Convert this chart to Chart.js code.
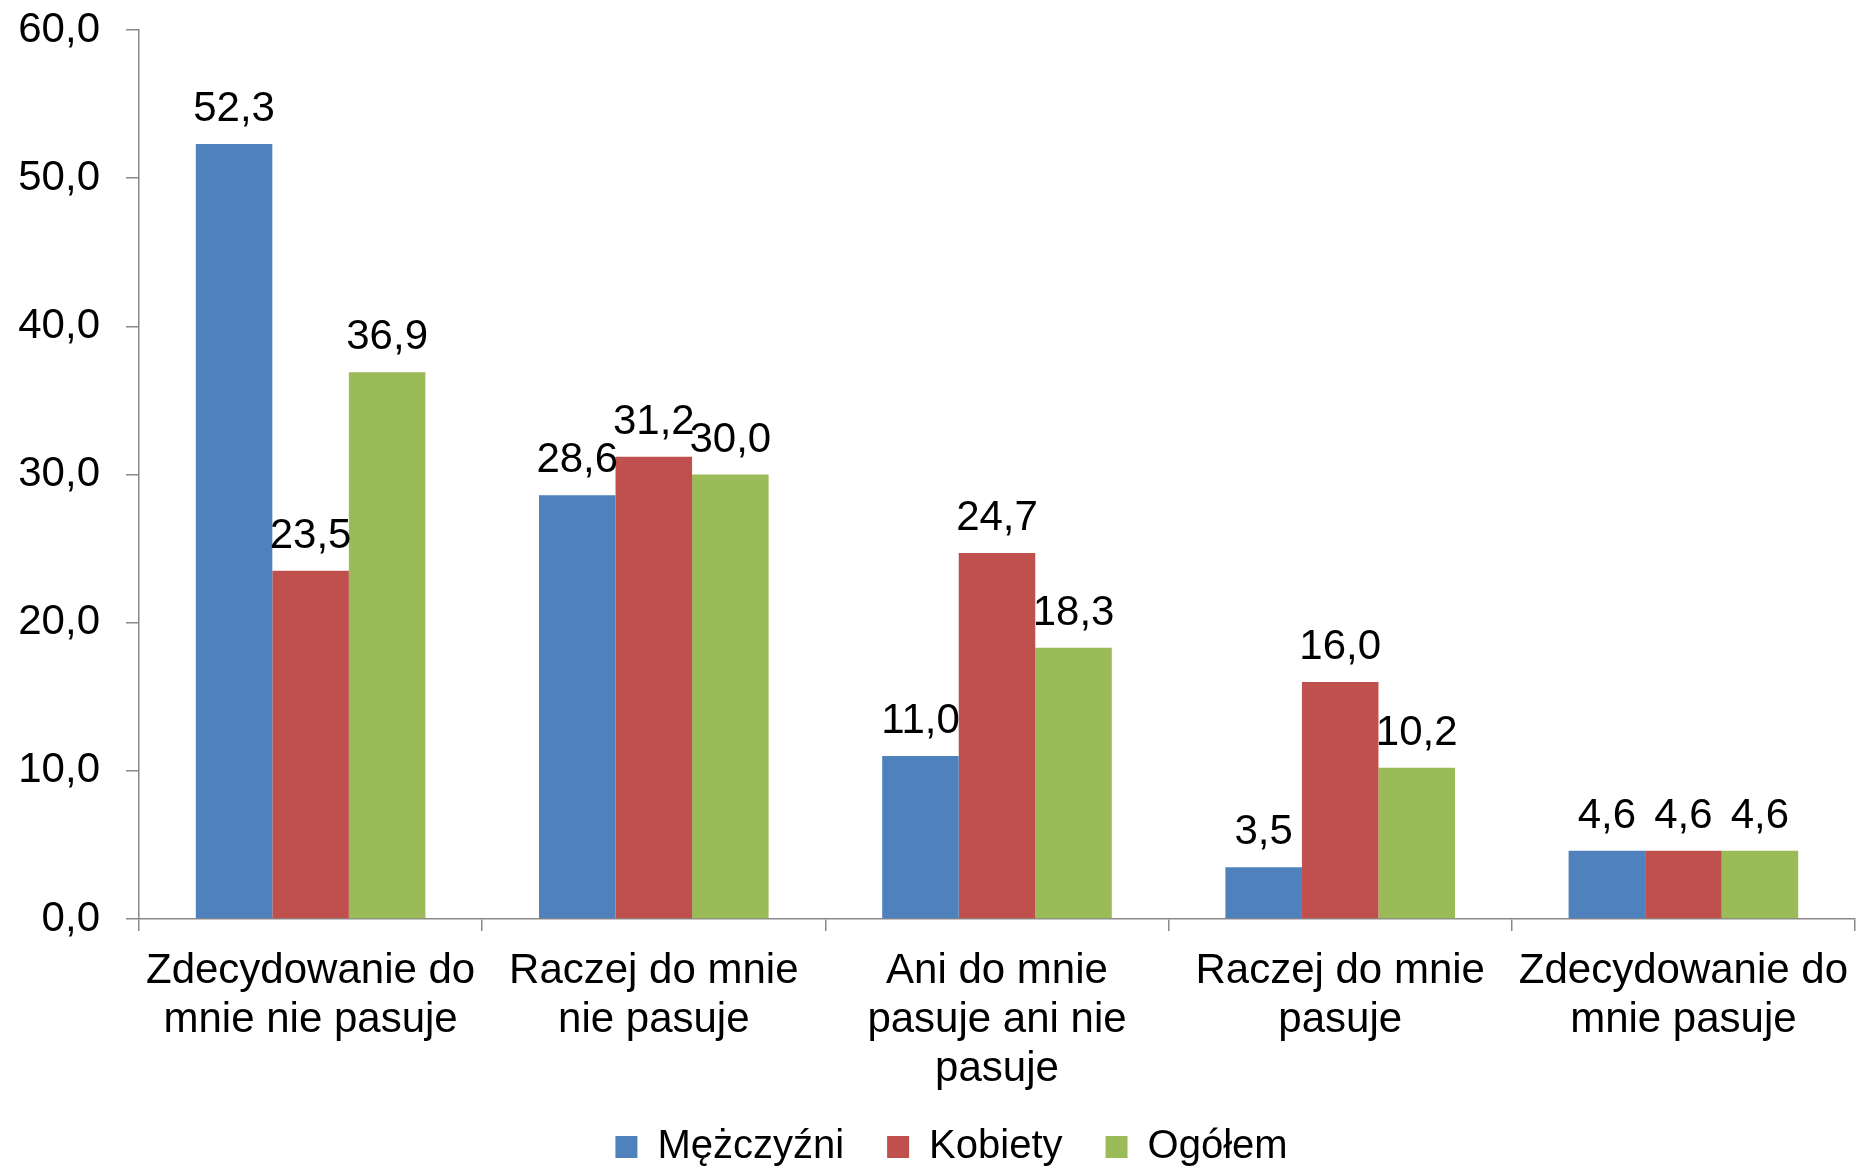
<!DOCTYPE html>
<html>
<head>
<meta charset="utf-8">
<script src="https://cdn.jsdelivr.net/npm/chart.js@4/dist/chart.umd.min.js"></script>
<style>
  body { margin: 0; background: #fff; }
  #wrap { width: 1857px; height: 1169px; }
</style>
</head>
<body>
<div id="wrap"><canvas id="chart"></canvas></div>
<script>
const categories = [
  ["Zdecydowanie do", "mnie nie pasuje"],
  ["Raczej do mnie", "nie pasuje"],
  ["Ani do mnie", "pasuje ani nie", "pasuje"],
  ["Raczej do mnie", "pasuje"],
  ["Zdecydowanie do", "mnie pasuje"]
];
const seriesNames = ["Mężczyźni", "Kobiety", "Ogółem"];
const men = [52.3, 28.6, 11.0, 3.5, 4.6];
const women = [23.5, 31.2, 24.7, 16.0, 4.6];
const total = [36.9, 30.0, 18.3, 10.2, 4.6];
const colors = ["#4F81BD", "#C0504D", "#9BBB59"];

const fontFamily = "'Liberation Sans', Arial, sans-serif";
const axisColor = "#898989";

function fmt(v) {
  return v.toFixed(1).replace(".", ",");
}

// value labels above each bar
const barLabels = {
  id: "barLabels",
  afterDatasetsDraw(chart) {
    const ctx = chart.ctx;
    ctx.save();
    ctx.font = "42px " + fontFamily;
    ctx.fillStyle = "#000";
    ctx.textAlign = "center";
    ctx.textBaseline = "alphabetic";
    chart.data.datasets.forEach((ds, i) => {
      chart.getDatasetMeta(i).data.forEach((bar, j) => {
        ctx.fillText(fmt(ds.data[j]), bar.x, bar.y - 23);
      });
    });
    ctx.restore();
  }
};

// nudge the legend so it sits where the original one is
const legendNudge = {
  id: "legendNudge",
  afterLayout(chart) {
    const lg = chart.legend;
    if (!lg) return;
    lg.left += 24; lg.right += 24;
    lg.top -= 15; lg.bottom -= 15;
  }
};

new Chart(document.getElementById("chart"), {
  type: "bar",
  data: {
    labels: categories,
    datasets: [men, women, total].map((d, i) => ({
      label: seriesNames[i],
      data: d,
      backgroundColor: colors[i],
      borderWidth: 0
    }))
  },
  options: {
    responsive: true,
    maintainAspectRatio: false,
    animation: false,
    layout: { padding: { top: 30, left: 0, right: 2, bottom: -23 } },
    datasets: { bar: { categoryPercentage: 0.669, barPercentage: 1 } },
    plugins: {
      tooltip: { enabled: false },
      legend: {
        position: "bottom",
        labels: {
          boxWidth: 22,
          boxHeight: 22,
          padding: 43,
          color: "#000",
          font: { family: fontFamily, size: 40 }
        }
      }
    },
    scales: {
      x: {
        afterFit(scale) {
          scale.height = 180;
          scale.paddingLeft = 0;
          scale.paddingRight = 0;
        },
        border: { display: true, color: axisColor, width: 1.5 },
        grid: { drawOnChartArea: false, drawTicks: true, tickLength: 12, color: axisColor, lineWidth: 1.5 },
        ticks: {
          color: "#000",
          padding: 16,
          maxRotation: 0,
          autoSkip: false,
          font: { family: fontFamily, size: 42, lineHeight: "49px" }
        }
      },
      y: {
        min: 0,
        max: 60,
        afterFit(scale) {
          scale.width = 139;
          scale.paddingTop = 0;
          scale.paddingBottom = 0;
        },
        border: { display: true, color: axisColor, width: 1.5 },
        grid: { drawOnChartArea: false, drawTicks: true, tickLength: 13, color: axisColor, lineWidth: 1.5 },
        ticks: {
          stepSize: 10,
          padding: 26,
          color: "#000",
          font: { family: fontFamily, size: 42 },
          callback: v => fmt(v)
        }
      }
    }
  },
  plugins: [barLabels, legendNudge]
});
</script>
</body>
</html>
